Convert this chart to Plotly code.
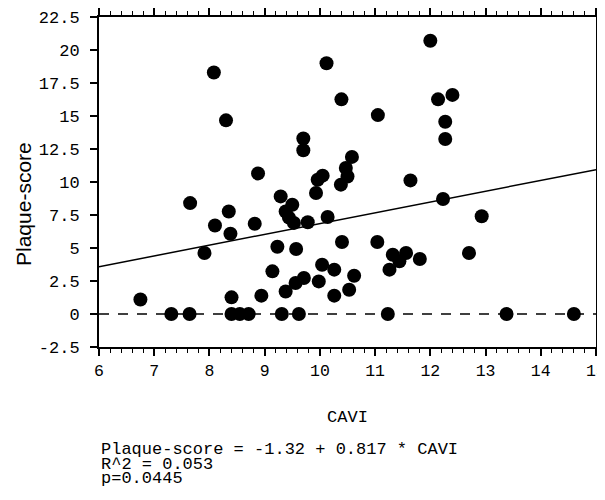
import plotly.graph_objects as go

cavi = [6.75, 7.31, 7.64, 7.65, 7.91, 8.10, 8.08, 8.30, 8.35, 8.38, 8.40, 8.40, 8.55, 8.71,
        8.82, 8.88, 8.94, 9.14, 9.23, 9.29, 9.31, 9.38, 9.38, 9.44, 9.50, 9.53, 9.78, 9.57,
        9.56, 9.71, 9.62, 9.70, 9.70, 9.93, 9.98, 9.96, 10.05, 10.04, 10.12, 10.14, 10.26,
        10.26, 10.38, 10.40, 10.39, 10.47, 10.50, 10.53, 10.58, 10.62, 11.04, 11.05, 11.23,
        11.26, 11.32, 11.44, 11.56, 11.64, 11.81, 12.00, 12.14, 12.23, 12.27, 12.27, 12.40,
        12.70, 12.93, 13.38, 14.60]
plaque = [1.1, 0, 0, 8.4, 4.62, 6.7, 18.3, 14.67, 7.77, 6.08, 1.26, 0, 0, 0,
          6.84, 10.65, 1.39, 3.23, 5.1, 8.91, 0, 1.71, 7.77, 7.3, 8.28, 6.9, 6.95, 4.92,
          2.35, 2.73, 0, 13.3, 12.4, 9.17, 2.47, 10.17, 10.48, 3.73, 19.0, 7.35, 3.36,
          1.39, 9.8, 5.45, 16.26, 11.06, 10.42, 1.84, 11.9, 2.9, 5.45, 15.07, 0,
          3.36, 4.49, 3.99, 4.62, 10.12, 4.17, 20.7, 16.26, 8.71, 14.57, 13.26, 16.6,
          4.62, 7.4, 0, 0]

intercept = -1.32
slope = 0.817
x_range = [6, 15]
y_range = [-2.5, 22.5]
y_ticks = [-2.5, 0, 2.5, 5, 7.5, 10, 12.5, 15, 17.5, 20, 22.5]
y_ticklabels = ["-2.5", "0", "2.5", "5", "7.5", "10", "12.5", "15", "17.5", "20", "22.5"]
x_ticks = [6, 7, 8, 9, 10, 11, 12, 13, 14, 15]
x_title = "CAVI"
y_title = "Plaque-score"
stats_lines = ["Plaque-score = -1.32 + 0.817 * CAVI", "R^2 = 0.053", "p=0.0445"]

TICKFONT = "Liberation Mono, DejaVu Sans Mono"
MONO = "Liberation Mono, DejaVu Sans Mono"
SANS = "Liberation Sans, Arial"

# page body has an 8px margin; figure is sized so the plot lands where the reference's does
OFF = 8
FIG_W, FIG_H = 605 - OFF, 500 - 2 * OFF
plot_left, plot_right, plot_top, plot_bottom = 99 - OFF, 596 - OFF, 17 - OFF, 347 - OFF
pw = plot_right - plot_left
ph = plot_bottom - plot_top


def px_to_paper_x(px):
    return (px - OFF - plot_left) / pw


def px_to_paper_y(py):
    return (plot_bottom - (py - OFF)) / ph


fig = go.Figure()
fig.add_trace(go.Scatter(x=x_range, y=[0, 0], mode="lines",
                         line=dict(color="black", width=1.5, dash="10px,9px"),
                         showlegend=False, hoverinfo="skip"))
fig.add_trace(go.Scatter(x=x_range, y=[intercept + slope * v for v in x_range], mode="lines",
                         line=dict(color="black", width=1.5),
                         showlegend=False, hoverinfo="skip"))
fig.add_trace(go.Scatter(x=cavi, y=plaque, mode="markers",
                         marker=dict(color="black", size=14, line=dict(width=0)),
                         showlegend=False))

fig.update_xaxes(range=x_range, tickvals=x_ticks, ticks="outside", ticklen=7, tickwidth=1.5,
                 tickcolor="black",
                 showline=True, linecolor="black", linewidth=2, mirror="allticks",
                 showgrid=False, zeroline=False, automargin=False, ticklabeloverflow="allow",
                 minor=dict(dtick=0.2, ticks="outside", ticklen=4, tickwidth=1, tickcolor="black"),
                 tickfont=dict(family=TICKFONT, size=16.5, color="black"),
                 title=dict(text=x_title, font=dict(family=MONO, size=17, color="black"), standoff=30))
fig.update_yaxes(range=y_range, tickvals=y_ticks, ticktext=y_ticklabels, ticks="outside",
                 ticklen=7, tickwidth=1.5, tickcolor="black", ticklabelstandoff=7,
                 showline=True, linecolor="black", linewidth=2, mirror="allticks",
                 showgrid=False, zeroline=False, automargin=False,
                 tickfont=dict(family=TICKFONT, size=17, color="black"))

fig.add_annotation(text=y_title, xref="paper", yref="paper",
                   x=px_to_paper_x(23), y=px_to_paper_y(204), textangle=-90,
                   xanchor="center", yanchor="middle", showarrow=False,
                   font=dict(family=SANS, size=21, color="black"))

line_px = [450, 464.5, 479]
for t, py in zip(stats_lines, line_px):
    fig.add_annotation(text=t, xref="paper", yref="paper", x=px_to_paper_x(100),
                       y=px_to_paper_y(py),
                       xanchor="left", yanchor="middle", showarrow=False, borderpad=0,
                       font=dict(family=MONO, size=17, color="black"))

fig.update_layout(width=FIG_W, height=FIG_H, plot_bgcolor="white", paper_bgcolor="white",
                  margin=dict(l=plot_left, r=FIG_W - plot_right, t=plot_top, b=FIG_H - plot_bottom))
fig.write_html("out.html")
